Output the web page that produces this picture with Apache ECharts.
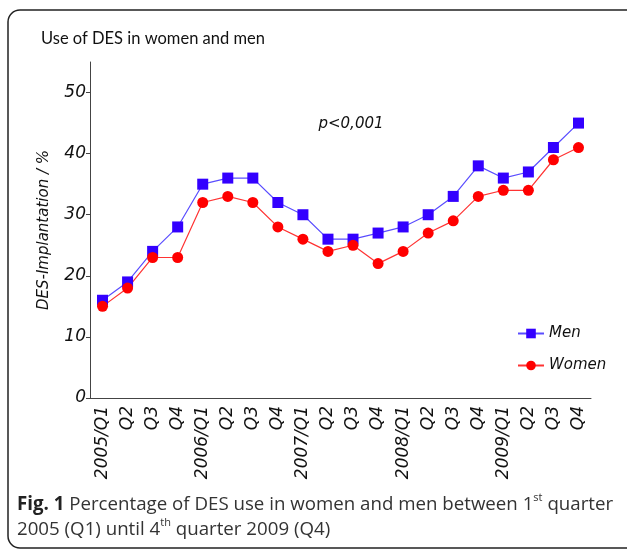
<!DOCTYPE html>
<html>
<head>
<meta charset="utf-8">
<script src="https://cdn.jsdelivr.net/npm/echarts@6/dist/echarts.min.js"></script>
<style>
  html, body { margin: 0; padding: 0; background: #fff; }
  #chart { width: 627px; height: 552px; }
</style>
</head>
<body>
<div id="chart"></div>
<script>
// quarters 2005/Q1 .. 2009/Q4
const quarters = ['2005/Q1', 'Q2', 'Q3', 'Q4', '2006/Q1', 'Q2', 'Q3', 'Q4',
  '2007/Q1', 'Q2', 'Q3', 'Q4', '2008/Q1', 'Q2', 'Q3', 'Q4',
  '2009/Q1', 'Q2', 'Q3', 'Q4'];
const men = [16, 19, 24, 28, 35, 36, 36, 32, 30, 26, 26, 27, 28, 30, 33, 38, 36, 37, 41, 45];
const women = [15, 18, 23, 23, 32, 33, 32, 28, 26, 24, 25, 22, 24, 27, 29, 33, 34, 34, 39, 41];
const yTicks = [0, 10, 20, 30, 40, 50];

const axisFont = 'DejaVu Sans';
let mychart = echarts.init(document.getElementById('chart'));

let option = {
  animation: false,
  title: {
    text: 'Use of DES in women and men',
    left: 36,
    top: 25,
    textStyle: { fontFamily: 'Lato', fontSize: 16.5, fontWeight: 'normal', color: '#111' }
  },
  grid: { left: 90, right: 36, top: 62, bottom: 154 },
  legend: {
    orient: 'vertical',
    left: 512,
    top: 321,
    itemGap: 17,
    itemWidth: 26,
    itemHeight: 12,
    textStyle: { fontFamily: axisFont, fontStyle: 'italic', fontSize: 15, color: '#111' },
    data: ['Men', 'Women']
  },
  xAxis: {
    type: 'category',
    data: quarters,
    boundaryGap: true,
    axisLine: { lineStyle: { color: '#444', width: 1 } },
    axisTick: { alignWithLabel: true, length: 5, lineStyle: { color: '#444' } },
    axisLabel: {
      rotate: 90, interval: 0, margin: 8,
      fontFamily: axisFont, fontStyle: 'italic', fontSize: 17, color: '#111'
    }
  },
  yAxis: {
    type: 'value',
    min: 0,
    max: 55,
    interval: 10,
    name: 'DES-Implantation / %',
    nameLocation: 'middle',
    nameRotate: 90,
    nameGap: 38,
    nameTextStyle: { fontFamily: axisFont, fontStyle: 'italic', fontSize: 15, color: '#111' },
    splitLine: { show: false },
    axisLine: { show: true, lineStyle: { color: '#444', width: 1 } },
    axisTick: { show: true, length: 4, customValues: yTicks, lineStyle: { color: '#444' } },
    axisLabel: {
      customValues: yTicks, margin: 4,
      fontFamily: axisFont, fontStyle: 'italic', fontSize: 17, color: '#111'
    }
  },
  series: [
    {
      name: 'Men',
      type: 'line',
      data: men,
      symbol: 'rect',
      symbolSize: 11,
      itemStyle: { color: '#3300ff' },
      lineStyle: { color: '#5a4dff', width: 1.2 }
    },
    {
      name: 'Women',
      type: 'line',
      data: women,
      symbol: 'circle',
      symbolSize: 11,
      itemStyle: { color: '#ff0000' },
      lineStyle: { color: '#ff3333', width: 1.2 }
    }
  ],
  graphic: [
    {
      type: 'rect',
      shape: { x: 8, y: 10, width: 640, height: 538, r: 12 },
      style: { fill: 'none', stroke: '#222', lineWidth: 1.5 },
      silent: true
    },
    {
      type: 'text',
      x: 351, y: 124,
      style: {
        text: 'p<0,001', align: 'center', verticalAlign: 'middle',
        font: 'italic 15px "DejaVu Sans"', fill: '#111'
      }
    },
    {
      type: 'text',
      x: 17, y: 492,
      style: {
        text: '{b|Fig. 1} Percentage of DES use in women and men between 1{s|st} quarter\n2005 (Q1) until 4{s|th} quarter 2009 (Q4)',
        fill: '#333',
        font: '18.7px "Open Sans"',
        lineHeight: 25,
        rich: {
          b: { fontFamily: 'Open Sans', fontSize: 18.7, fontWeight: 'bold', fill: '#222', lineHeight: 25 },
          s: { fontFamily: 'Open Sans', fontSize: 11, verticalAlign: 'top', lineHeight: 25 }
        }
      }
    }
  ]
};

mychart.setOption(option);
</script>
</body>
</html>
